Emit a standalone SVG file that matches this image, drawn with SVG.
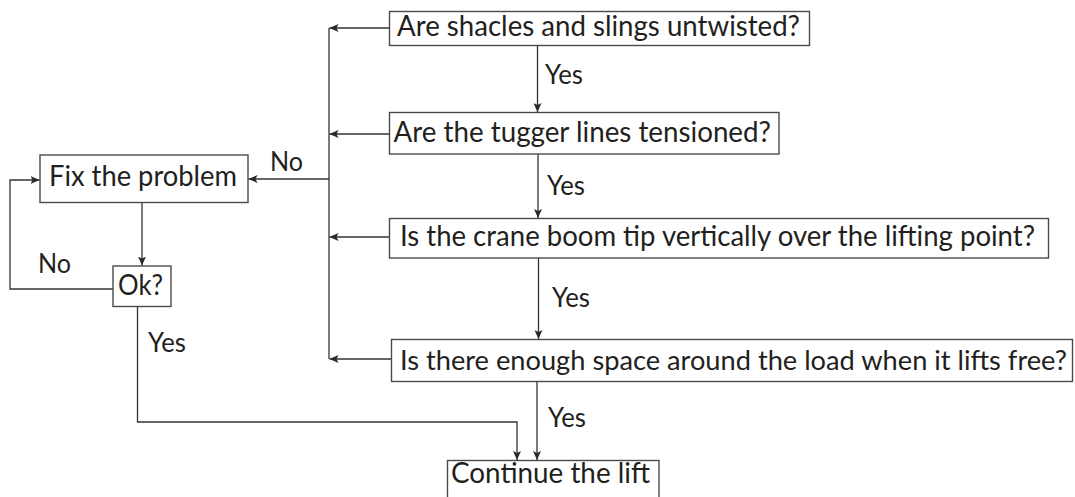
<svg xmlns="http://www.w3.org/2000/svg" width="1075" height="497" viewBox="0 0 1075 497">
  <style>
    .box { fill: #ffffff; stroke: #4a4a4a; stroke-width: 1.4; }
    .txt { font-family: Lato, "Open Sans", "Liberation Sans", sans-serif; font-size: 28.5px; fill: #231f20; }
    .txt-long { font-size: 27px; }
    .lbl { font-family: Lato, "Open Sans", "Liberation Sans", sans-serif; font-size: 26px; fill: #231f20; }
    .wire { fill: none; stroke: #333333; stroke-width: 1.3; }
    .arr { marker-end: url(#head); }
  </style>
  <defs>
    <marker id="head" markerUnits="userSpaceOnUse" markerWidth="9" markerHeight="8" refX="9" refY="4" orient="auto">
      <path d="M0,0 L9,4 L0,8 L2,4 z" fill="#2a2a2a"/>
    </marker>
  </defs>
  <rect width="1075" height="497" fill="#ffffff"/>

  <!-- connectors -->
  <g id="connectors">
    <line class="wire arr" x1="389.5" y1="28" x2="329.5" y2="28"/>
    <line class="wire arr" x1="389.5" y1="134" x2="329.5" y2="134"/>
    <line class="wire arr" x1="389.5" y1="237" x2="329.5" y2="237"/>
    <line class="wire arr" x1="391.5" y1="359" x2="329.5" y2="359"/>
    <line class="wire" x1="329" y1="28" x2="329" y2="359"/>
    <line class="wire arr" x1="329" y1="179" x2="248.5" y2="179"/>

    <line class="wire arr" x1="537.5" y1="45.5" x2="537.5" y2="112"/>
    <line class="wire arr" x1="538" y1="154" x2="538" y2="218"/>
    <line class="wire arr" x1="538.5" y1="258" x2="538.5" y2="339"/>
    <line class="wire arr" x1="537" y1="381.5" x2="537" y2="460"/>

    <line class="wire arr" x1="142" y1="202.5" x2="142" y2="265.5"/>
    <polyline class="wire arr" points="113,289 10,289 10,180 39.5,180"/>
    <polyline class="wire arr" points="137.5,306.5 137.5,422 517,422 517,460"/>

    <text class="lbl" x="545" y="84" textLength="38" lengthAdjust="spacingAndGlyphs">Yes</text>
    <text class="lbl" x="547" y="195" textLength="38" lengthAdjust="spacingAndGlyphs">Yes</text>
    <text class="lbl" x="552" y="307" textLength="38" lengthAdjust="spacingAndGlyphs">Yes</text>
    <text class="lbl" x="548" y="427" textLength="38" lengthAdjust="spacingAndGlyphs">Yes</text>
    <text class="lbl" x="270" y="171" textLength="33" lengthAdjust="spacingAndGlyphs">No</text>
    <text class="lbl" x="38" y="273" textLength="33" lengthAdjust="spacingAndGlyphs">No</text>
    <text class="lbl" x="148" y="352" textLength="38" lengthAdjust="spacingAndGlyphs">Yes</text>
  </g>

  <g id="q-shackles">
    <rect class="box" x="389.5" y="11.5" width="420" height="34"/>
    <text class="txt" x="397" y="36" textLength="403" lengthAdjust="spacingAndGlyphs">Are shacles and slings untwisted?</text>
  </g>

  <g id="q-tugger">
    <rect class="box" x="389.5" y="112.5" width="389.5" height="41.5"/>
    <text class="txt" x="393.5" y="141.5" textLength="377.5" lengthAdjust="spacingAndGlyphs">Are the tugger lines tensioned?</text>
  </g>

  <g id="q-boom">
    <rect class="box" x="389.5" y="218.5" width="659" height="39.5"/>
    <text class="txt" x="400" y="245.5" textLength="635" lengthAdjust="spacingAndGlyphs">Is the crane boom tip vertically over the lifting point?</text>
  </g>

  <g id="q-space">
    <rect class="box" x="391.5" y="339.5" width="681" height="42"/>
    <text class="txt txt-long" x="400" y="370" textLength="667" lengthAdjust="spacingAndGlyphs">Is there enough space around the load when it lifts free?</text>
  </g>

  <g id="fix">
    <rect class="box" x="40" y="155" width="208" height="47.5"/>
    <text class="txt" x="49" y="185.5" textLength="188" lengthAdjust="spacingAndGlyphs">Fix the problem</text>
  </g>

  <g id="ok">
    <rect class="box" x="113" y="266" width="58" height="40.5"/>
    <text class="txt" x="118" y="295" textLength="45" lengthAdjust="spacingAndGlyphs">Ok?</text>
  </g>

  <g id="continue">
    <rect class="box" x="447.5" y="460.5" width="211.5" height="45"/>
    <text class="txt" x="451" y="483" textLength="199" lengthAdjust="spacingAndGlyphs">Continue the lift</text>
  </g>
</svg>
